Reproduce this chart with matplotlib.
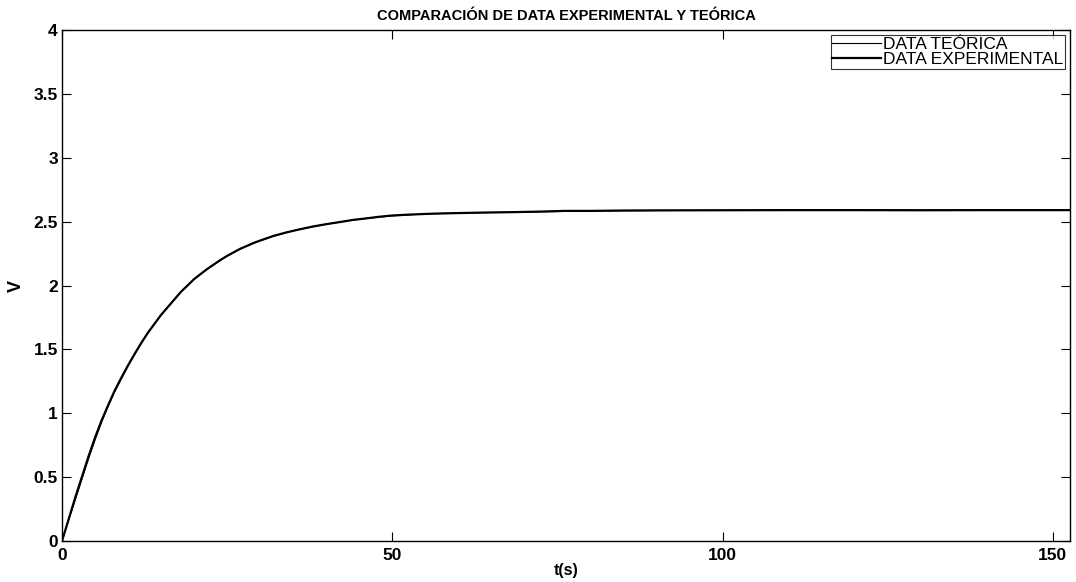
import matplotlib.pyplot as plt

plt.rcParams['font.family'] = ['Liberation Sans', 'DejaVu Sans']

t_teo = [0, 1, 2, 3, 4, 5, 6, 7, 8, 9, 10, 11, 12, 13, 14, 15, 16, 18, 20, 22, 24, 26,
         28, 30, 32, 34, 36, 38, 40, 43, 46, 50, 55, 60, 70, 80, 90, 100, 120, 140, 152.6]
v_teo = [0, 0.16, 0.32, 0.48, 0.64, 0.79, 0.93, 1.055, 1.17, 1.27, 1.37, 1.46, 1.55, 1.63,
         1.70, 1.77, 1.83, 1.95, 2.05, 2.13, 2.20, 2.26, 2.31, 2.35, 2.385, 2.415, 2.44,
         2.46, 2.48, 2.505, 2.525, 2.545, 2.56, 2.568, 2.575, 2.583, 2.587, 2.589, 2.59,
         2.59, 2.59]

t_exp = [0, 1, 2, 3, 4, 5, 6, 7, 8, 9, 10, 11, 12, 13, 14, 15, 16, 17, 18, 19, 20, 21,
         22, 23, 24, 25, 26, 27, 28, 29, 30, 32, 34, 36, 38, 40, 42, 44, 46, 48, 50, 53,
         56, 60, 64, 68, 72, 76, 80, 85, 90, 100, 110, 120, 130, 140, 152.6]
v_exp = [0, 0.17, 0.34, 0.50, 0.66, 0.81, 0.945, 1.065, 1.18, 1.28, 1.375, 1.465, 1.55,
         1.63, 1.70, 1.77, 1.83, 1.89, 1.95, 2.00, 2.05, 2.09, 2.13, 2.165, 2.20,
         2.232, 2.26, 2.288, 2.31, 2.333, 2.352, 2.388, 2.416, 2.44, 2.462, 2.48, 2.496,
         2.513, 2.525, 2.538, 2.548, 2.556, 2.562, 2.567, 2.571, 2.574, 2.578, 2.584,
         2.584, 2.587, 2.588, 2.589, 2.59, 2.59, 2.589, 2.59, 2.59]

x_ticks = [0, 50, 100, 150]
y_ticks = [0, 0.5, 1, 1.5, 2, 2.5, 3, 3.5, 4]

fig = plt.figure(figsize=(10.76, 5.82), dpi=100)
ax = fig.add_axes([62 / 1076, 41 / 582, 1008 / 1076, 511 / 582])

ax.plot(t_teo, v_teo, color='black', linewidth=0.8, label='DATA TEÓRICA')
ax.plot(t_exp, v_exp, color='black', linewidth=1.6, label='DATA EXPERIMENTAL')

ax.set_xlim(0, 152.6)
ax.set_ylim(0, 4)
ax.set_xticks(x_ticks)
ax.set_yticks(y_ticks)
ax.set_xticklabels([str(v) for v in x_ticks], fontsize=12.5, fontweight='bold')
ax.set_yticklabels(['0', '0.5', '1', '1.5', '2', '2.5', '3', '3.5', '4'],
                   fontsize=12.5, fontweight='bold')
ax.tick_params(direction='in', length=6.5, width=0.8, top=True, right=True, pad=3)
ax.tick_params(axis='x', pad=5)
for s in ax.spines.values():
    s.set_linewidth(1.0)

ax.set_title('COMPARACIÓN DE DATA EXPERIMENTAL Y TEÓRICA', fontsize=10.5,
             fontweight='bold', pad=7)
ax.set_xlabel('t(s)', fontsize=11.5, fontweight='bold', labelpad=0)
ax.set_ylabel('V', fontsize=13, fontweight='bold', labelpad=6)

leg = ax.legend(loc='upper right', fontsize=12.5, frameon=True, fancybox=False,
                borderpad=0.1, handlelength=2.8, handletextpad=0.1,
                labelspacing=0.0, borderaxespad=0.3)
leg.get_frame().set_edgecolor('black')
leg.get_frame().set_linewidth(0.8)

fig.savefig('out.png', dpi=100)
